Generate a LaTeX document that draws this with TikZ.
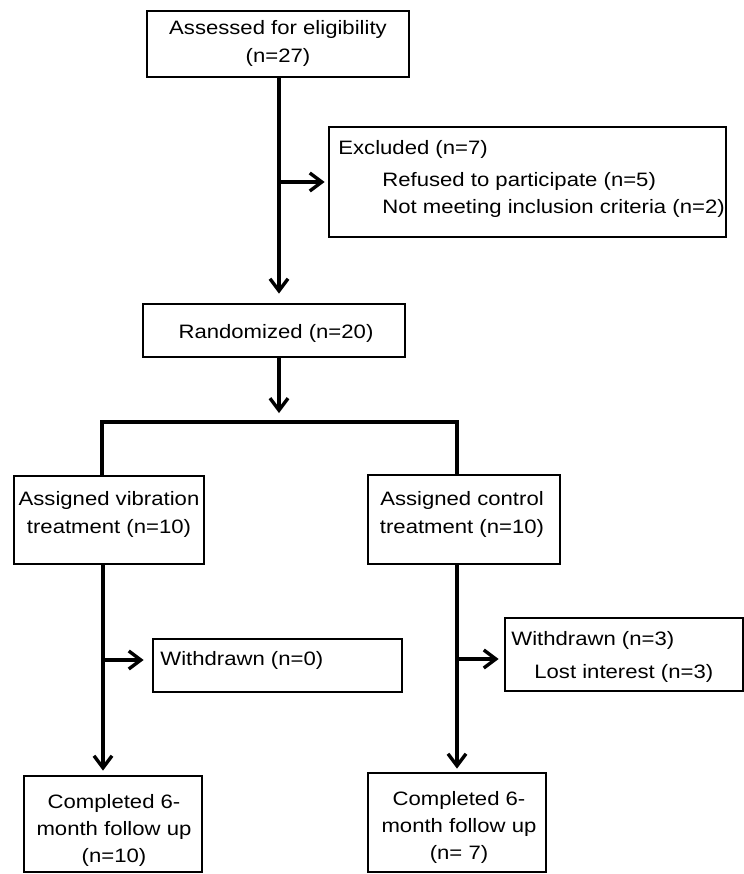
\documentclass[tikz,border=0pt]{standalone}
\usepackage{fontspec}
\setmainfont[FakeStretch=1.14]{Liberation Sans}
\usetikzlibrary{arrows.meta}
\begin{document}
\begin{tikzpicture}[x=0.5pt,y=-0.5pt,
  box/.style={draw=black, line width=1.4pt, inner sep=0pt},
  txt/.style={inner sep=0pt, font=\fontsize{9.7}{14}\selectfont, align=center},
  ltxt/.style={inner sep=0pt, font=\fontsize{9.7}{14}\selectfont, anchor=west},
  conn/.style={draw=black, line width=1.7pt, line join=miter},
  arr/.style={conn, -{Straight Barb[length=6pt,width=9pt,line width=1.7pt]}}
]
\path[fill=white] (0,0) rectangle (744,874);
\useasboundingbox (0,0) rectangle (744,874);

% boxes
\node[box, minimum width=131pt, minimum height=33pt] (A) at (278,44) {};
\node[txt] (At) at (278,43) {Assessed for eligibility\\(n=27)};

\node[box, minimum width=198.5pt, minimum height=55pt] (E) at (527.5,182) {};
\node[ltxt] (E1) at (338,149) {Excluded (n=7)};
\node[ltxt] (E2) at (382,181) {Refused to participate (n=5)};
\node[ltxt] (E3) at (382,208) {Not meeting inclusion criteria (n=2)};

\node[box, minimum width=131pt, minimum height=26.5pt] (R) at (274,330.5) {};
\node[txt] (Rt) at (276,333) {Randomized (n=20)};

\node[box, minimum width=95pt, minimum height=44pt] (V) at (109,520) {};
\node[txt] (Vt) at (109,514) {Assigned vibration\\treatment (n=10)};

\node[box, minimum width=96pt, minimum height=44.5pt] (C) at (464,519.5) {};
\node[txt] (Ct) at (462,514) {Assigned control\\treatment (n=10)};

\node[box, minimum width=124.5pt, minimum height=26.5pt] (W0) at (277.5,665.5) {};
\node[ltxt] (W0t) at (160,660) {Withdrawn (n=0)};

\node[box, minimum width=119pt, minimum height=36.5pt] (W3) at (624,654.5) {};
\node[ltxt] (W3a) at (511,640) {Withdrawn (n=3)};
\node[ltxt] (W3b) at (534,673) {Lost interest (n=3)};

\node[box, minimum width=89pt, minimum height=48pt] (CL) at (113,824) {};
\node[txt, font=\fontsize{9.7}{13.5}\selectfont] (CLt) at (114,830) {Completed 6-\\month follow up\\(n=10)};

\node[box, minimum width=89pt, minimum height=49.5pt] (CR) at (457,822.5) {};
\node[txt, font=\fontsize{9.7}{13.5}\selectfont] (CRt) at (459,827) {Completed 6-\\month follow up\\(n= 7)};

% junction coordinates
\coordinate (m1) at (279,182);
\coordinate (bar) at (279,422);
\coordinate (barL) at (102,422);
\coordinate (barR) at (457,422);
\coordinate (lx) at (103,660);
\coordinate (rx) at (457,659);

% connectors
\draw[arr, shorten >=4.5pt] (A.south -| m1) -- (R.north -| m1);
\draw[arr, shorten >=1.5pt] (m1) -- (m1 -| E.west);
\draw[arr, shorten >=4.5pt] (R.south -| bar) -- (bar);
\draw[conn] (V.north -| barL) |- (barR) -- (C.north -| barR);
\draw[arr, shorten >=2pt] (V.south -| lx) -- (CL.north -| lx);
\draw[arr, shorten >=4pt] (lx) -- (lx -| W0.west);
\draw[arr, shorten >=1.5pt] (C.south -| rx) -- (CR.north -| rx);
\draw[arr, shorten >=2.5pt] (rx) -- (rx -| W3.west);
\end{tikzpicture}
\end{document}
